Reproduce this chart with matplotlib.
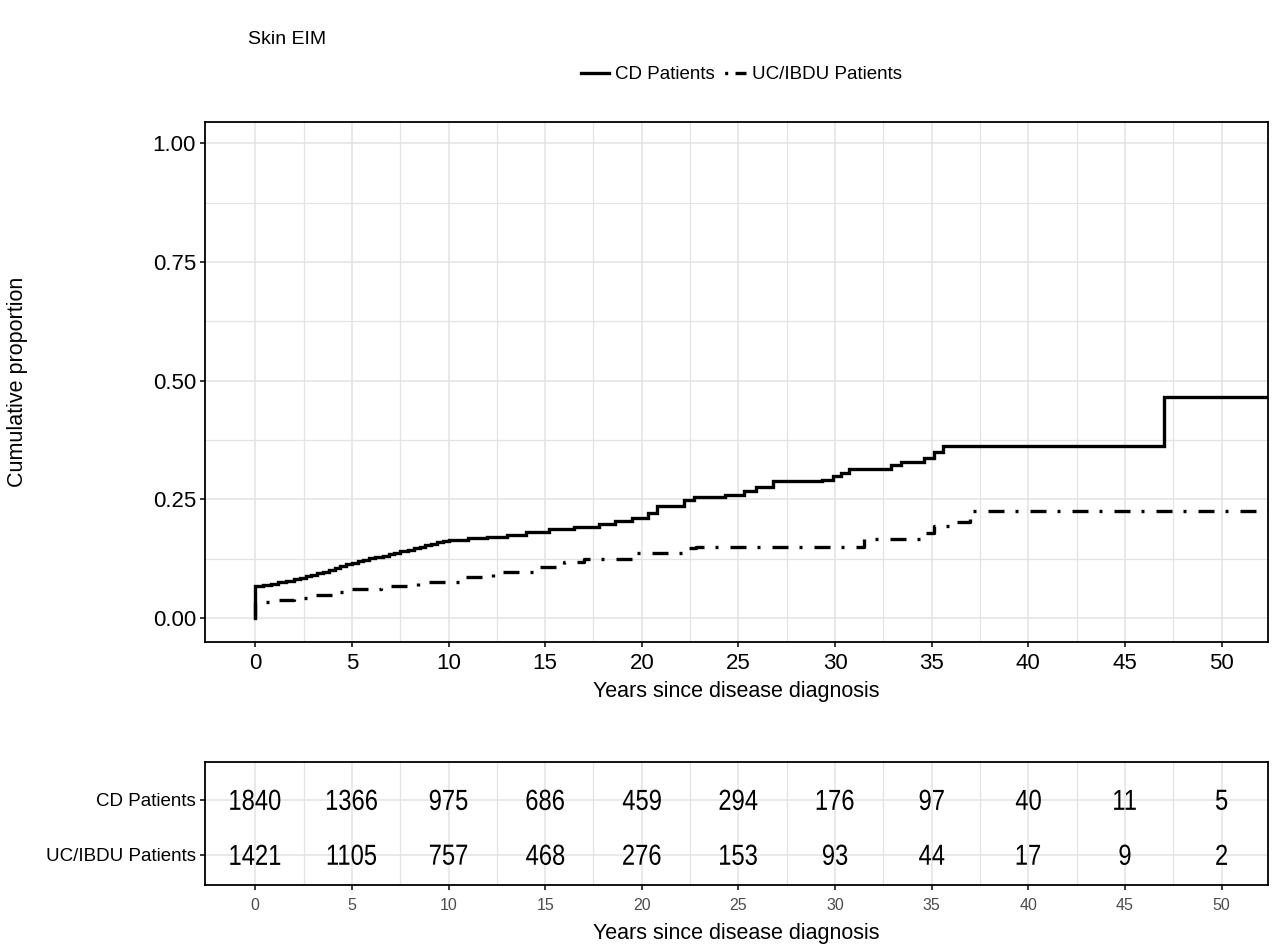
import numpy as np
import matplotlib
matplotlib.use("Agg")
import matplotlib.pyplot as plt
from matplotlib.lines import Line2D
from matplotlib.textpath import TextPath
from matplotlib.patches import PathPatch
from matplotlib.font_manager import FontProperties
from matplotlib.transforms import Affine2D, ScaledTranslation

# cumulative proportion step curves (event time in years, value after the step)
cd_times = [0, 0.4, 0.8, 1.2, 1.6, 2.0, 2.3, 2.6, 2.9, 3.2, 3.5, 3.8, 4.1, 4.4,
            4.7, 5.0, 5.3, 5.6, 5.9, 6.2, 6.6, 6.9, 7.2, 7.5, 7.9, 8.2, 8.5,
            8.8, 9.1, 9.4, 9.7, 10.0, 11.0, 12.0, 13.0, 14.0, 15.2, 16.5, 17.8,
            18.6, 19.5, 20.3, 20.8, 22.2, 22.7, 24.3, 25.3, 25.9, 26.8, 29.3,
            29.9, 30.3, 30.7, 32.9, 33.4, 34.6, 35.1, 35.6, 47.0]
cd_prop = [0.068, 0.070, 0.073, 0.076, 0.079, 0.082, 0.085, 0.088, 0.091,
           0.095, 0.098, 0.102, 0.106, 0.110, 0.114, 0.117, 0.120, 0.123,
           0.126, 0.129, 0.132, 0.135, 0.138, 0.141, 0.144, 0.148, 0.151,
           0.154, 0.157, 0.160, 0.162, 0.164, 0.168, 0.171, 0.176, 0.182,
           0.188, 0.193, 0.199, 0.205, 0.211, 0.221, 0.236, 0.248, 0.255,
           0.259, 0.268, 0.277, 0.288, 0.292, 0.299, 0.306, 0.314, 0.322,
           0.329, 0.338, 0.350, 0.362, 0.465]
cd_end = 52.6

uc_times = [0, 1.0, 2.0, 3.0, 4.0, 5.0, 6.5, 8.4, 10.6, 12.3, 14.4, 16.0, 17.0,
            19.6, 22.4, 22.8, 31.5, 34.5, 35.1, 36.2, 37.0]
uc_prop = [0.035, 0.038, 0.043, 0.049, 0.056, 0.062, 0.068, 0.077, 0.086,
           0.097, 0.108, 0.118, 0.125, 0.137, 0.147, 0.150, 0.166, 0.180,
           0.195, 0.203, 0.225]
uc_end = 52.6

# numbers at risk
risk_years = [0, 5, 10, 15, 20, 25, 30, 35, 40, 45, 50]
cd_risk = [1840, 1366, 975, 686, 459, 294, 176, 97, 40, 11, 5]
uc_risk = [1421, 1105, 757, 468, 276, 153, 93, 44, 17, 9, 2]
groups = ["CD Patients", "UC/IBDU Patients"]

plt.rcParams['font.family'] = ['Liberation Sans', 'DejaVu Sans']
fp = FontProperties(family='Liberation Sans')

LW = 2.4
DASHDOT = (0, (4.8, 3.3, 0.9, 3.6))
XLIM = (-2.6, 52.4)


def narrow_text(ax, x, y, s, size_px=29, sx=0.82):
    # the table numbers in the original are tall and narrow
    tp = TextPath((0, 0), s, size=size_px, prop=fp)
    bb = tp.get_extents()
    tr = (Affine2D().translate(-(bb.x0 + bb.x1) / 2, -(bb.y0 + bb.y1) / 2).scale(sx, 1)
          + ScaledTranslation(x, y, ax.transData))
    ax.add_patch(PathPatch(tp, transform=tr, facecolor='black', lw=0))


fig = plt.figure(figsize=(12.75, 9.46), dpi=100)
ax = fig.add_axes([0.1608, 0.3214, 0.8337, 0.5497])
ax2 = fig.add_axes([0.1608, 0.0645, 0.8337, 0.1300])

# main panel
x = [0] + cd_times + [cd_end]
y = [0] + cd_prop + [cd_prop[-1]]
ax.step(x, y, where='post', color='black', lw=LW, solid_joinstyle='miter')
x = [0] + uc_times + [uc_end]
y = [0] + uc_prop + [uc_prop[-1]]
ax.step(x, y, where='post', color='black', lw=LW, linestyle=DASHDOT)

ax.set_xlim(*XLIM)
ax.set_ylim(-0.05, 1.045)
ax.set_xticks(risk_years)
ax.set_xticks(np.arange(2.5, 52.5, 5), minor=True)
ax.set_yticks([0, 0.25, 0.5, 0.75, 1.0])
ax.set_yticklabels(["0.00", "0.25", "0.50", "0.75", "1.00"])
ax.set_yticks([0.125, 0.375, 0.625, 0.875], minor=True)
ax.grid(True, which='major', color='#e3e3e3', lw=1.1)
ax.grid(True, which='minor', color='#e3e3e3', lw=0.9)
ax.set_axisbelow(True)
ax.tick_params(which='major', length=3.5, width=1.1, labelsize=16, colors='black', pad=4.5)
ax.tick_params(axis='y', which='major', pad=3)
ax.tick_params(which='minor', length=0)
for s in ax.spines.values():
    s.set_linewidth(1.3)
ax.set_xlabel("Years since disease diagnosis", fontsize=15.5, labelpad=5)
fig.text(18 / 1275, 0.596, "Cumulative proportion", fontsize=15.5, rotation=90,
         ha='center', va='center')

# risk table
for i, counts in enumerate([cd_risk, uc_risk]):
    row = 2 - i
    for yr, n in zip(risk_years, counts):
        narrow_text(ax2, yr, row, str(n))
ax2.set_xlim(*XLIM)
ax2.set_ylim(0.45, 2.69)
ax2.set_xticks(risk_years)
ax2.set_xticks(np.arange(2.5, 52.5, 5), minor=True)
ax2.set_yticks([2, 1])
ax2.set_yticklabels(groups)
ax2.grid(True, which='major', color='#e3e3e3', lw=1.1)
ax2.grid(True, which='minor', axis='x', color='#e3e3e3', lw=0.9)
ax2.set_axisbelow(True)
ax2.tick_params(axis='x', which='major', length=3.5, width=1.1, labelsize=11.5,
                labelcolor='#4d4d4d', pad=6)
ax2.tick_params(axis='y', which='major', length=3.5, width=1.1, labelsize=13.5, pad=3)
ax2.tick_params(which='minor', length=0)
for s in ax2.spines.values():
    s.set_linewidth(1.3)
ax2.set_xlabel("Years since disease diagnosis", fontsize=15.5, labelpad=7)

# title and legend
fig.text(0.1945, 1 - 39 / 946, "Skin EIM", fontsize=14, va='center', ha='left')
handles = [Line2D([], [], color='black', lw=LW),
           Line2D([], [], color='black', lw=LW,
                  linestyle=(0, (0.001, 2.0, 0.9, 2.2, 3.5, 5)))]
fig.legend(handles, groups, loc='center', bbox_to_anchor=(0.5816, 0.921), ncol=2,
           frameon=False, fontsize=13.5, handlelength=1.5, handletextpad=0.3,
           columnspacing=0.2)

fig.savefig("out.png", dpi=100)
